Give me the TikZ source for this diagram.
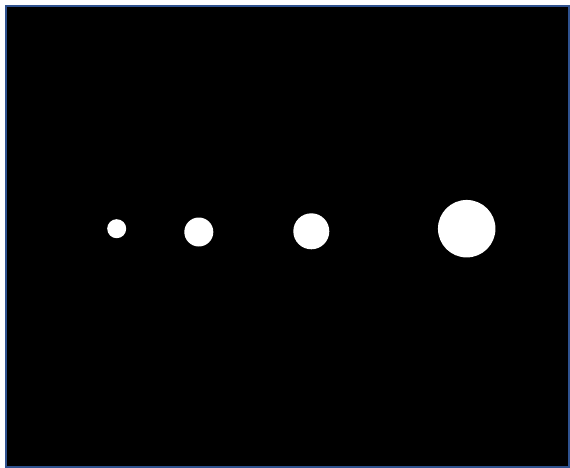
\documentclass[tikz,border=0pt]{standalone}
\definecolor{frameblue}{HTML}{2F528F}
\begin{document}
\begin{tikzpicture}[x=1pt,y=-1pt,
  dot/.style={circle,fill=white,draw=none,inner sep=0pt}]
\useasboundingbox[fill=white] (0,0) rectangle (570,468);
\draw[fill=black,draw=frameblue,line width=2pt] (6,6) rectangle (568.5,466.5);
\node[dot,minimum size=19pt] (c1) at (116.7,228.7) {};
\node[dot,minimum size=29pt] (c2) at (198.8,232) {};
\node[dot,minimum size=36pt] (c3) at (311.3,231.3) {};
\node[dot,minimum size=57.5pt] (c4) at (466.7,228.7) {};
\end{tikzpicture}
\end{document}
